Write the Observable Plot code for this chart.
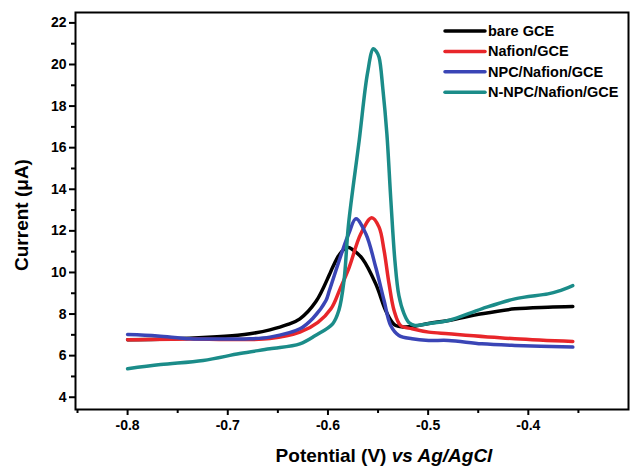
<!DOCTYPE html>
<html>
<head>
<meta charset="utf-8">
<script src="https://cdn.jsdelivr.net/npm/d3@7"></script>
<script src="https://cdn.jsdelivr.net/npm/@observablehq/plot@0.6"></script>
<style>
  html, body { margin: 0; padding: 0; background: #fff; }
  #chart { width: 630px; height: 468px; }
</style>
</head>
<body>
<div id="chart"></div>
<script>
// Series names and colours
const seriesNames = ["bare GCE", "Nafion/GCE", "NPC/Nafion/GCE", "N-NPC/Nafion/GCE"];
const seriesColors = ["#000000", "#e8262a", "#3a45b6", "#1b8c89"];

// Tick values
const xTicks = [-0.8, -0.7, -0.6, -0.5, -0.4];
const xMinorTicks = [-0.85, -0.75, -0.65, -0.55, -0.45, -0.35];
const yTicks = [4, 6, 8, 10, 12, 14, 16, 18, 20, 22];
const yMinorTicks = [5, 7, 9, 11, 13, 15, 17, 19, 21];

// Curves: [potential (V), current (µA)]
const bareGCE = [
  [-0.8, 6.76], [-0.76, 6.8], [-0.72, 6.88], [-0.69, 6.98], [-0.678, 7.05], [-0.658, 7.24],
  [-0.64, 7.5], [-0.628, 7.77], [-0.612, 8.6], [-0.5985, 9.9], [-0.5953, 10.25], [-0.588, 10.9],
  [-0.5805, 11.21], [-0.574, 11.05], [-0.5656, 10.66], [-0.5523, 9.45], [-0.5424, 8.17],
  [-0.5358, 7.6], [-0.5324, 7.45], [-0.525, 7.38], [-0.515, 7.4], [-0.4994, 7.55],
  [-0.4796, 7.69], [-0.4465, 8.01], [-0.4134, 8.25], [-0.3804, 8.33], [-0.3556, 8.36]
];
const nafionGCE = [
  [-0.8, 6.76], [-0.7375, 6.8], [-0.7, 6.78], [-0.658, 6.82], [-0.628, 7.13], [-0.61, 7.6],
  [-0.597, 8.25], [-0.588, 9.2], [-0.5788, 10.25], [-0.5672, 11.86], [-0.5563, 12.63],
  [-0.549, 12.18], [-0.544, 11.06], [-0.539, 9.45], [-0.534, 8.17], [-0.5275, 7.45],
  [-0.516, 7.29], [-0.4994, 7.13], [-0.4796, 7.05], [-0.4134, 6.81], [-0.3556, 6.68]
];
const npcNafionGCE = [
  [-0.8, 7.02], [-0.77, 6.95], [-0.7375, 6.81], [-0.7, 6.8], [-0.678, 6.81], [-0.658, 6.89],
  [-0.628, 7.29], [-0.615, 7.8], [-0.602, 8.65], [-0.5986, 9.13], [-0.5854, 11.06],
  [-0.579, 11.9], [-0.5721, 12.58], [-0.5622, 11.86], [-0.5523, 10.25], [-0.544, 8.65],
  [-0.5374, 7.45], [-0.5292, 6.97], [-0.516, 6.81], [-0.4994, 6.73], [-0.4796, 6.73],
  [-0.4465, 6.57], [-0.4134, 6.49], [-0.3556, 6.41]
];
const nnpcNafionGCE = [
  [-0.8, 5.37], [-0.767, 5.57], [-0.7246, 5.77], [-0.688, 6.1], [-0.658, 6.33], [-0.628, 6.57],
  [-0.6125, 6.97], [-0.5953, 7.53], [-0.589, 8.2], [-0.584, 9.6], [-0.5795, 12.3],
  [-0.5688, 16.35], [-0.5606, 19.56], [-0.5547, 20.76], [-0.5517, 20.62], [-0.549, 20.35],
  [-0.5452, 18.83], [-0.5412, 16.67], [-0.5372, 13.46], [-0.5332, 10.58], [-0.5292, 8.89],
  [-0.5242, 8.03], [-0.5193, 7.59], [-0.5133, 7.45], [-0.4994, 7.55], [-0.4796, 7.69],
  [-0.4465, 8.25], [-0.4134, 8.73], [-0.3804, 8.97], [-0.37, 9.1], [-0.3556, 9.37]
];

const seriesData = [bareGCE, nafionGCE, npcNafionGCE, nnpcNafionGCE];
const rows = seriesData.flatMap((arr, i) => arr.map(([x, y]) => ({x, y, s: seriesNames[i]})));

const font = "'Liberation Sans', Arial, sans-serif";
const fmt = d => d.toFixed(1);

const plot = Plot.plot({
  width: 630,
  height: 468,
  marginLeft: 75,
  marginRight: 2,
  marginTop: 12,
  marginBottom: 59,
  style: {fontFamily: font, fontWeight: "bold", fontSize: "14px", color: "#000", background: "#fff"},
  x: {domain: [-0.852, -0.3]},
  y: {domain: [3.41, 22.5]},
  color: {domain: seriesNames, range: seriesColors},
  marks: [
    Plot.axisX({ticks: xTicks, tickSize: 6, tickPadding: 5, tickFormat: fmt, label: null, strokeWidth: 2, fontSize: 14, fontWeight: "bold"}),
    Plot.axisX({ticks: xMinorTicks, tickSize: 4, tickFormat: () => "", label: null, strokeWidth: 2}),
    Plot.axisY({ticks: yTicks, tickSize: 6, tickPadding: 3, label: null, strokeWidth: 2, fontSize: 14, fontWeight: "bold"}),
    Plot.axisY({ticks: yMinorTicks, tickSize: 4, tickFormat: () => "", label: null, strokeWidth: 2}),
    Plot.line(rows, {x: "x", y: "y", z: "s", stroke: "s", strokeWidth: 3.5, curve: "catmull-rom"}),
    Plot.frame({stroke: "#000", strokeWidth: 2})
  ]
});

const svg = d3.select(plot);

// Legend
const legendX1 = 445, legendX2 = 485, legendY0 = 31, legendDY = 20.4;
seriesNames.forEach((name, i) => {
  const y = legendY0 + i * legendDY;
  svg.append("line").attr("x1", legendX1).attr("x2", legendX2).attr("y1", y).attr("y2", y)
    .attr("stroke", seriesColors[i]).attr("stroke-width", 3.5).attr("stroke-linecap", "round");
  svg.append("text").attr("x", legendX2 + 3).attr("y", y).attr("dy", "0.35em")
    .attr("text-anchor", "start")
    .attr("font-family", font).attr("font-weight", "bold").attr("font-size", 14.5)
    .attr("fill", "#000").text(name);
});

// Axis titles
svg.append("text")
  .attr("transform", "translate(28,215) rotate(-90)")
  .attr("text-anchor", "middle")
  .attr("font-family", font).attr("font-weight", "bold").attr("font-size", 19)
  .attr("fill", "#000")
  .text("Current (μA)");

const xt = svg.append("text")
  .attr("x", 384).attr("y", 462)
  .attr("text-anchor", "middle")
  .attr("font-family", font).attr("font-weight", "bold").attr("font-size", 19)
  .attr("fill", "#000");
xt.append("tspan").text("Potential (V) ");
xt.append("tspan").attr("font-style", "italic").text("vs Ag/AgCl");

document.getElementById("chart").appendChild(plot);
</script>
</body>
</html>
